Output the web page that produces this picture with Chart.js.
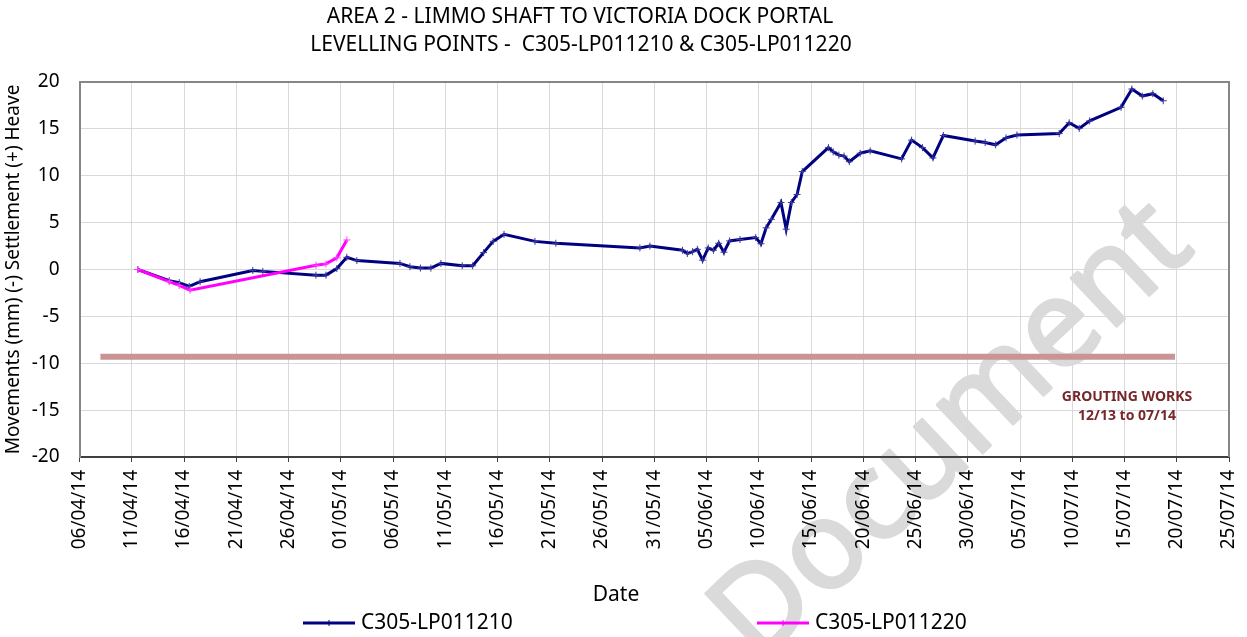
<!DOCTYPE html>
<html>
<head>
<meta charset="utf-8">
<script src="https://cdn.jsdelivr.net/npm/chart.js@4.4.1/dist/chart.umd.min.js"></script>
<style>
  html, body { margin: 0; padding: 0; background: #fff; }
  #wrap { width: 1247px; height: 637px; position: relative; }
</style>
</head>
<body>
<div id="wrap"><canvas id="js-chart-levelling"></canvas></div>
<script>
// Axis start and tick labels (every 5 days)
const axisStart = "2014-04-06";
const xTickLabels = ["06/04/14", "11/04/14", "16/04/14", "21/04/14", "26/04/14", "01/05/14",
    "06/05/14", "11/05/14", "16/05/14", "21/05/14", "26/05/14", "31/05/14", "05/06/14",
    "10/06/14", "15/06/14", "20/06/14", "25/06/14", "30/06/14", "05/07/14", "10/07/14",
    "15/07/14", "20/07/14", "25/07/14"];
const yTicks = [-20, -15, -10, -5, 0, 5, 10, 15, 20];

// C305-LP011210
const lp011210Dates = [
    "2014-04-11T14:00", "2014-04-14T14:00", "2014-04-15T13:00", "2014-04-16T12:00", "2014-04-17T13:00",
    "2014-04-22T14:00", "2014-04-23T13:00", "2014-04-28T15:00", "2014-04-29T14:00", "2014-04-30T15:00",
    "2014-05-01T14:00", "2014-05-02T13:00", "2014-05-06T16:00", "2014-05-07T15:00", "2014-05-08T15:00",
    "2014-05-09T15:00", "2014-05-10T14:00", "2014-05-12T15:00", "2014-05-13T15:00", "2014-05-14T16:00",
    "2014-05-15T14:00", "2014-05-16T15:00", "2014-05-19T14:00", "2014-05-21T14:00", "2014-05-29T15:00",
    "2014-05-30T14:00", "2014-06-02T17:00", "2014-06-03T04:00", "2014-06-03T16:00", "2014-06-04T03:00",
    "2014-06-04T15:00", "2014-06-05T04:00", "2014-06-05T16:00", "2014-06-06T04:00", "2014-06-06T16:00",
    "2014-06-07T05:00", "2014-06-08T05:00", "2014-06-09T17:00", "2014-06-10T05:00", "2014-06-10T17:00",
    "2014-06-11T05:00", "2014-06-12T03:00", "2014-06-12T15:00", "2014-06-13T03:00", "2014-06-13T16:00",
    "2014-06-14T04:00", "2014-06-16T16:00", "2014-06-17T03:00", "2014-06-17T16:00", "2014-06-18T04:00",
    "2014-06-18T16:00", "2014-06-19T17:00", "2014-06-20T16:00", "2014-06-23T16:00", "2014-06-24T15:00",
    "2014-06-25T16:00", "2014-06-26T16:00", "2014-06-27T16:00", "2014-06-30T17:00", "2014-07-01T16:00",
    "2014-07-02T16:00", "2014-07-03T16:00", "2014-07-04T17:00", "2014-07-08T18:00", "2014-07-09T17:00",
    "2014-07-10T16:00", "2014-07-11T16:00", "2014-07-14T16:00", "2014-07-15T17:00", "2014-07-16T17:00",
    "2014-07-17T17:00", "2014-07-18T17:00"
];
const lp011210Values = [
    0.0, -1.2, -1.4, -1.8, -1.3,
    -0.1, -0.2, -0.6, -0.6, 0.1,
    1.3, 0.95, 0.65, 0.3, 0.15,
    0.15, 0.65, 0.4, 0.4, 1.8,
    3.0, 3.75, 3.0, 2.8, 2.3,
    2.5, 2.05, 1.7, 1.9, 2.15,
    1.0, 2.3, 2.05, 2.8, 1.85,
    3.05, 3.2, 3.4, 2.75, 4.45,
    5.35, 7.15, 4.3, 7.15, 8.0,
    10.45, 13.0, 12.55, 12.2, 12.1,
    11.5, 12.4, 12.65, 11.8, 13.8,
    13.0, 11.9, 14.3, 13.7, 13.55,
    13.3, 14.05, 14.35, 14.5, 15.65,
    15.05, 15.85, 17.3, 19.25, 18.5,
    18.75, 18.0
];

// C305-LP011220
const lp011220Dates = [
    "2014-04-11T14:00", "2014-04-14T14:00", "2014-04-15T13:00", "2014-04-16T14:00",
    "2014-04-28T15:00", "2014-04-29T14:00", "2014-04-30T15:00", "2014-05-01T14:00"
];
const lp011220Values = [0.0, -1.3, -1.7, -2.2, 0.45, 0.6, 1.25, 3.15];

// Grouting works band
const groutingDates = ["2014-04-08", "2014-07-19T20:00"];
const groutingLevels = [-9.3, -9.3];

const DAY = 86400000;
const t0 = Date.parse(axisStart + "T00:00Z");
const toDay = (s) => (Date.parse((s.length > 10 ? s : s + "T00:00") + "Z") - t0) / DAY;
const toPoints = (dates, values) => dates.map((d, i) => ({ x: toDay(d), y: values[i] }));

Chart.defaults.font.family = "'Noto Sans', sans-serif";
Chart.defaults.color = "#000";

const extrasPlugin = {
    id: "extras",
    beforeDraw(chart) {
        const ctx = chart.ctx;
        ctx.save();
        // watermark
        ctx.translate(977, 458);
        ctx.rotate(-43.4 * Math.PI / 180);
        ctx.font = "123px 'Noto Sans'";
        ctx.fillStyle = "#dadada";
        ctx.strokeStyle = "#dadada";
        ctx.lineWidth = 3;
        ctx.lineJoin = "round";
        ctx.textAlign = "center";
        ctx.textBaseline = "alphabetic";
        ctx.fillText("Document", 0, 0);
        ctx.strokeText("Document", 0, 0);
        ctx.restore();
    },
    beforeDatasetsDraw(chart) {
        const { ctx, chartArea: a } = chart;
        ctx.save();
        ctx.strokeStyle = "#868686";
        ctx.lineWidth = 2;
        ctx.beginPath();
        ctx.moveTo(a.left, a.top);
        ctx.lineTo(a.right, a.top);
        ctx.lineTo(a.right, a.bottom);
        ctx.stroke();
        ctx.restore();
    },
    afterDraw(chart) {
        const ctx = chart.ctx;
        ctx.save();
        ctx.textAlign = "center";
        ctx.textBaseline = "middle";
        ctx.fillStyle = "#000";
        // title
        ctx.font = "21px 'Noto Sans'";
        ctx.fillText("AREA 2 - LIMMO SHAFT TO VICTORIA DOCK PORTAL", 580, 17);
        ctx.fillText("LEVELLING POINTS -  C305-LP011210 & C305-LP011220", 581, 45);
        // x axis title
        ctx.font = "21px 'Noto Sans'";
        ctx.fillText("Date", 616, 595);
        // grouting note
        ctx.fillStyle = "#76282a";
        ctx.font = "bold 14px 'Noto Sans'";
        ctx.fillText("GROUTING WORKS", 1127, 397);
        ctx.fillText("12/13 to 07/14", 1127, 416);
        // legend
        const items = [[0, 303], [1, 757]];
        items.forEach(([i, x]) => {
            const ds = chart.data.datasets[i];
            const y = 623;
            ctx.strokeStyle = ds.borderColor;
            ctx.lineWidth = 3;
            ctx.beginPath();
            ctx.moveTo(x, y);
            ctx.lineTo(x + 52, y);
            ctx.stroke();
            ctx.lineWidth = 1;
            ctx.beginPath();
            ctx.moveTo(x + 26 - 3, y);
            ctx.lineTo(x + 26 + 3, y);
            ctx.moveTo(x + 26, y - 3);
            ctx.lineTo(x + 26, y + 3);
            ctx.stroke();
            ctx.fillStyle = "#000";
            ctx.textAlign = "left";
            ctx.font = "21px 'Noto Sans'";
            ctx.fillText(ds.label, x + 58, y);
        });
        ctx.restore();
    }
};

new Chart(document.getElementById("js-chart-levelling"), {
    type: "line",
    data: {
        datasets: [
            {
                label: "C305-LP011210",
                data: toPoints(lp011210Dates, lp011210Values),
                borderColor: "#000080",
                backgroundColor: "#000080",
                borderWidth: 3,
                pointStyle: "cross",
                pointRadius: 3.5,
                pointBorderWidth: 1,
                pointBorderColor: "#3a3aa0",
                order: 2
            },
            {
                label: "C305-LP011220",
                data: toPoints(lp011220Dates, lp011220Values),
                borderColor: "#ff00ff",
                backgroundColor: "#ff00ff",
                borderWidth: 3,
                pointStyle: "cross",
                pointRadius: 3.5,
                pointBorderWidth: 1,
                pointBorderColor: "#ff40ff",
                order: 1
            },
            {
                label: "Grouting",
                data: toPoints(groutingDates, groutingLevels),
                borderColor: "#c99594",
                borderWidth: 6,
                borderCapStyle: "butt",
                pointRadius: 0,
                order: 3
            }
        ]
    },
    options: {
        responsive: true,
        maintainAspectRatio: false,
        animation: false,
        layout: { padding: { top: 82, right: 18, left: 0, bottom: 0 } },
        plugins: {
            legend: { display: false },
            title: { display: false },
            tooltip: { enabled: false }
        },
        scales: {
            x: {
                type: "linear",
                min: 0,
                max: (xTickLabels.length - 1) * 5,
                afterFit: (scale) => {
                    scale.height = 180;
                    scale.paddingLeft = 0;
                    scale.paddingRight = 0;
                },
                ticks: {
                    stepSize: 5,
                    minRotation: 90,
                    maxRotation: 90,
                    padding: 8,
                    font: { size: 19 },
                    callback: (value) => xTickLabels[Math.round(value / 5)]
                },
                grid: { color: "#d9d9d9", tickColor: "#404040", tickLength: 5 },
                border: { color: "#404040", width: 2 }
            },
            y: {
                min: yTicks[0],
                max: yTicks[yTicks.length - 1],
                afterFit: (scale) => { scale.width = 79.5; },
                ticks: { stepSize: 5, padding: 20, font: { size: 19 } },
                grid: { color: "#d9d9d9", drawTicks: false },
                border: { color: "#868686", width: 2 },
                title: {
                    display: true,
                    text: "Movements (mm) (-) Settlement (+) Heave",
                    font: { size: 19 },
                    padding: { top: 2, bottom: 0 }
                }
            }
        }
    },
    plugins: [extrasPlugin]
});
</script>
</body>
</html>
